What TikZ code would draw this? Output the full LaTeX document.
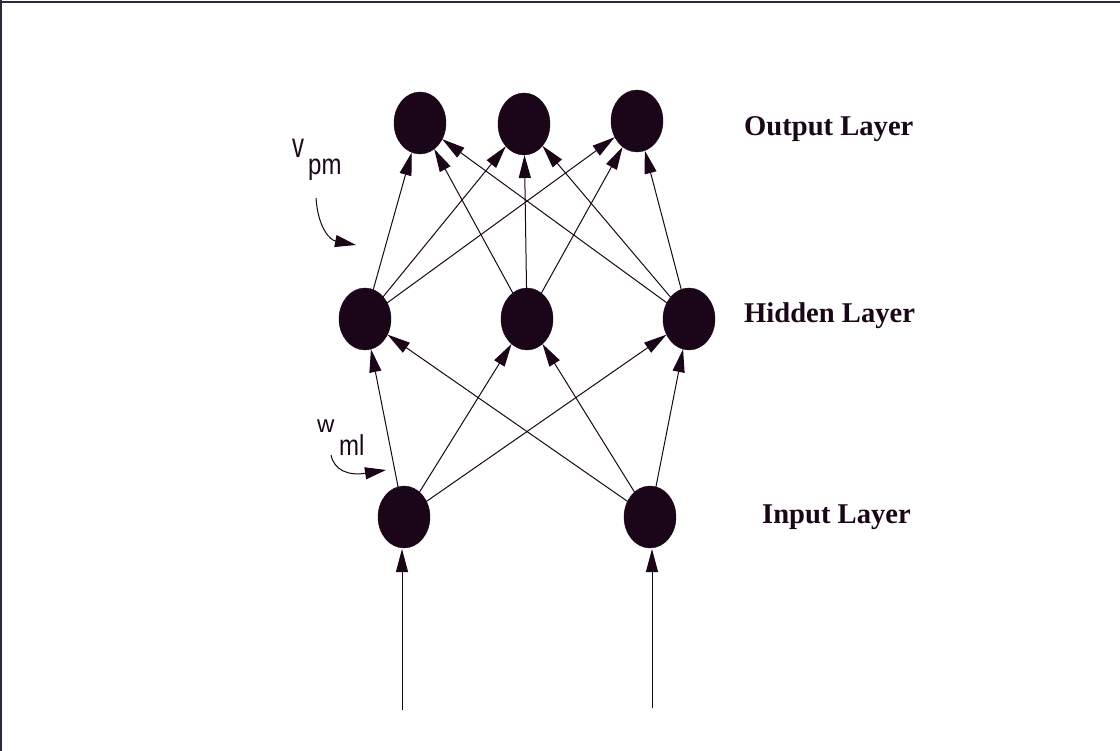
\documentclass[tikz,border=0pt]{standalone}
\usepackage{fontspec}
\setmainfont{Liberation Serif}
\newfontfamily\labsans{Liberation Sans}
\usetikzlibrary{shapes.geometric,arrows.meta}
\definecolor{ink}{RGB}{26,6,24}
\definecolor{framec}{RGB}{48,40,56}
\tikzset{
  neuron/.style={ellipse, fill=ink, draw=ink, minimum width=52pt, minimum height=62pt, inner sep=0pt, outer sep=0pt},
  conn/.style={draw=ink, line width=1pt, -{Triangle[length=23pt,width=12pt]}},
  curvarrow/.style={draw=ink, line width=1pt, -{Triangle[length=21pt,width=12pt]}},
  layerlab/.style={anchor=base west, inner sep=0pt, text=ink, font=\bfseries\fontsize{28.6}{34}\selectfont},
  wlab/.style={anchor=base west, inner sep=0pt, text=ink, font=\labsans\fontsize{24}{28}\selectfont}
}
\begin{document}
\begin{tikzpicture}[x=1pt,y=-1pt]
\useasboundingbox (0,0) rectangle (1120,751);
\fill[white] (0,0) rectangle (1120,751);
% frame
\draw[framec, line width=2pt] (0,2.5) -- (1120,2.5);
\draw[framec, line width=1.6pt] (0.8,0) -- (0.8,751);
% neurons
\node[neuron] (O1) at (420,123) {};
\node[neuron] (O2) at (524,124) {};
\node[neuron] (O3) at (637,121) {};
\node[neuron] (H1) at (365,319) {};
\node[neuron] (H2) at (527,319) {};
\node[neuron] (H3) at (689,319) {};
\node[neuron] (I1) at (404,517) {};
\node[neuron] (I2) at (650,517) {};
% hidden -> output
\foreach \h in {H1,H2,H3}{
  \foreach \o in {O1,O2,O3}{
    \draw[conn] (\h) -- (\o);
  }
}
% input -> hidden
\foreach \i in {I1,I2}{
  \foreach \h in {H1,H2,H3}{
    \draw[conn] (\i) -- (\h);
  }
}
% external inputs
\coordinate (x1) at (402,710);
\coordinate (x2) at (652,708);
\draw[conn] (x1) -- (402,549);
\draw[conn] (x2) -- (652,549);
% labels
\node[layerlab] (lo) at (744,136) {Output Layer};
\node[layerlab] (lh) at (744,323) {Hidden Layer};
\node[layerlab] (li) at (762,523) {Input Layer};
% weight labels
\node[wlab] (v) at (292,158) {\scalebox{1}[1.45]{v}};
\node[wlab] (pm) at (308,175) {\scalebox{1}[1.2]{pm}};
\node[wlab] (w) at (317,432) {w};
\node[wlab] (ml) at (339,456) {\scalebox{1}[1.2]{ml}};
% curved pointers
\coordinate (va) at (316,198);
\coordinate (vb) at (356,245);
\draw[curvarrow] (va) .. controls (318,228) and (330,240) .. (vb);
\coordinate (wa) at (331,455);
\coordinate (wb) at (386,470);
\draw[curvarrow] (wa) .. controls (334,470) and (348,476) .. (wb);
\end{tikzpicture}
\end{document}
